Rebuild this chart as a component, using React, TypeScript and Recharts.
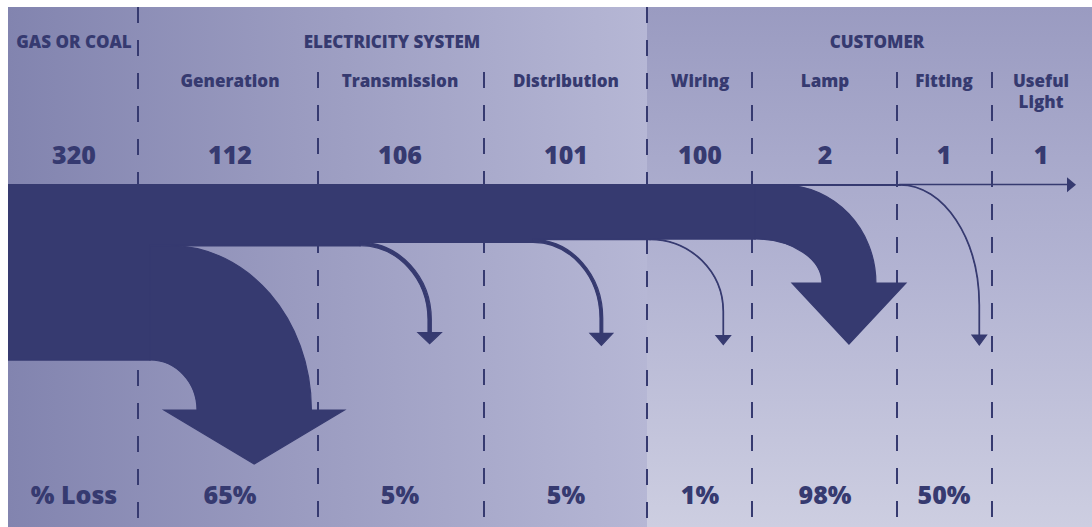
import React from "react"
import { ComposedChart, Area, XAxis, YAxis, ReferenceLine, ReferenceArea, ReferenceDot } from "recharts"

// stages along the supply chain and the energy units left at each one
const groupNames = ["GAS OR COAL", "ELECTRICITY SYSTEM", "CUSTOMER"]
const stageNames = ["", "Generation", "Transmission", "Distribution", "Wiring", "Lamp", "Fitting", "Useful\nLight"]
const stageValues = [320, 112, 106, 101, 100, 2, 1, 1]
const lossHeader = "% Loss"

// layout
const WIDTH = 1084
const HEIGHT = 520
const PX_PER_UNIT = 0.55
const BAND_TOP = 177
const SPLIT_X = 639
const NAVY = "#363a70"
const FONT = "'Open Sans', 'Noto Sans', sans-serif"

const STAGE_X = [66, 222, 392, 558, 692, 817, 936, 1033]
const GROUP_X = [66, 384, 869]
const ROW = { group: 41, name: 80, nameLine: 21, value: 157, loss: 497 }

const DIVIDERS = [
  { x: 130, from: 0 },
  { x: 310, from: 65 },
  { x: 476, from: 65 },
  { x: 639, from: 0 },
  { x: 744, from: 65 },
  { x: 889, from: 65 },
  { x: 984, from: 65 },
]

// one entry per loss step: where the stream peels off the band and how it falls
const LOSS_SHAPES = [
  { start: 142, turn: 189, bend: 50, drop: 50, lead: 20, head: 33, headLen: 54 },
  { start: 352, turn: 420, bend: 74, drop: 87, lead: 0, head: 10, headLen: 11 },
  { start: 525, turn: 592, bend: 76, drop: 91, lead: 0, head: 10, headLen: 12 },
  { start: 642, turn: 715, bend: 72, drop: 96, lead: 0, head: 7, headLen: 9 },
  { start: 747, turn: 814, bend: 44, drop: 44, lead: 28, head: 30, headLen: 61 },
  { start: 892, turn: 971, bend: 120, drop: 150, lead: 0, head: 7, headLen: 10 },
]
const FLOW_END = 1059
const FLOW_TIP = 1068

const flowPoints = [
  { x: 0, v: stageValues[0] },
  ...LOSS_SHAPES.map((s, i) => ({ x: s.start, v: stageValues[i + 1] })),
  { x: FLOW_END, v: stageValues[stageValues.length - 1] },
]

const K = 0.5523

function lossPath(x: number, y: number, w: number, t: number, s: typeof LOSS_SHAPES[number]) {
  const x0 = x
  const x1 = x + w
  const ya = y
  const yb = y + t
  const yTurn = yb + s.bend
  const yBase = yb + s.drop
  const yTip = yBase + s.headLen
  const xo = x0 + s.lead
  const xr = x1 + t
  return [
    `M${x0},${ya}`,
    `L${xo},${ya}`,
    `C${xo + K * (xr - xo)},${ya} ${xr},${yTurn - K * (yTurn - ya)} ${xr},${yTurn}`,
    `L${xr},${yBase}`,
    `L${xr + s.head},${yBase}`,
    `L${x1 + t / 2},${yTip}`,
    `L${x1 - s.head},${yBase}`,
    `L${x1},${yBase}`,
    `L${x1},${yTurn}`,
    `C${x1},${yTurn - K * (yTurn - yb)} ${x0 + K * (x1 - x0)},${yb} ${x0},${yb}`,
    "Z",
  ].join(" ")
}

const textStyle = { fill: NAVY, fontFamily: FONT, fontWeight: 800 }

function lossLabel(i: number) {
  if (i === 0) return lossHeader
  if (i >= stageValues.length - 1) return ""
  const prev = stageValues[i - 1]
  return `${Math.round(((prev - stageValues[i]) / prev) * 100)}%`
}

function StageLabels({ x, i }: { x: number; i: number }) {
  const lines = stageNames[i] ? stageNames[i].split("\n") : []
  const loss = lossLabel(i)
  return (
    <g>
      {lines.map((line, j) => (
        <text key={j} x={x} y={ROW.name + j * ROW.nameLine} textAnchor="middle" fontSize={17} {...textStyle}>
          {line}
        </text>
      ))}
      <text x={x} y={ROW.value} textAnchor="middle" fontSize={25} {...textStyle}>
        {stageValues[i]}
      </text>
      {loss && (
        <text x={x} y={ROW.loss} textAnchor="middle" fontSize={25} {...textStyle}>
          {loss}
        </text>
      )}
    </g>
  )
}

export default function App() {
  const yDomain = [-BAND_TOP / PX_PER_UNIT, (HEIGHT - BAND_TOP) / PX_PER_UNIT]
  return (
    <div style={{ position: "relative", width: WIDTH, height: HEIGHT }}>
      <style>{"body{margin:7px 0 0 8px;overflow:hidden}"}</style>
      <div
        style={{
          position: "absolute",
          left: 0,
          top: 0,
          width: SPLIT_X,
          height: HEIGHT,
          background: "linear-gradient(to right, #8284af 0%, #9a9bc0 45%, #b6b7d5 100%)",
        }}
      />
      <div
        style={{
          position: "absolute",
          left: SPLIT_X,
          top: 0,
          width: WIDTH - SPLIT_X,
          height: HEIGHT,
          background: "linear-gradient(to bottom, #9a9bc1 0%, #b2b3d2 50%, #cdcee1 100%)",
        }}
      />
      <div style={{ position: "absolute", left: 0, top: 0 }}>
        <ComposedChart width={WIDTH} height={HEIGHT} data={flowPoints} margin={{ top: 0, right: 0, bottom: 0, left: 0 }}>
          <XAxis dataKey="x" type="number" domain={[0, WIDTH]} allowDataOverflow hide />
          <YAxis type="number" domain={yDomain} allowDataOverflow reversed hide />

          {DIVIDERS.map((d) => (
            <ReferenceLine
              key={d.x}
              x={d.x}
              ifOverflow="visible"
              shape={(p: any) => {
                const top = Math.min(p.y1, p.y2)
                const bottom = Math.max(p.y1, p.y2)
                return (
                  <line
                    x1={p.x1}
                    x2={p.x1}
                    y1={top + d.from}
                    y2={bottom}
                    stroke={NAVY}
                    strokeWidth={2}
                    strokeDasharray="16 17"
                  />
                )
              }}
            />
          ))}

          <Area
            type="stepAfter"
            dataKey="v"
            baseValue={0}
            stroke={NAVY}
            strokeWidth={1.6}
            fill={NAVY}
            fillOpacity={1}
            dot={false}
            activeDot={false}
            isAnimationActive={false}
          />

          {LOSS_SHAPES.map((s, i) => (
            <ReferenceArea
              key={s.start}
              x1={s.start}
              x2={s.turn}
              y1={stageValues[i + 1]}
              y2={stageValues[i]}
              ifOverflow="visible"
              shape={(p: any) => (
                <path d={lossPath(p.x, p.y, p.width, p.height, s)} fill={NAVY} stroke={NAVY} strokeWidth={1.2} />
              )}
            />
          ))}

          <ReferenceArea
            x1={FLOW_END}
            x2={FLOW_TIP}
            y1={0}
            y2={stageValues[stageValues.length - 1]}
            ifOverflow="visible"
            shape={(p: any) => {
              const cy = p.y + p.height / 2 + 0.4
              return (
                <polygon
                  points={`${p.x},${cy - 7.5} ${p.x + p.width},${cy} ${p.x},${cy + 7.5}`}
                  fill={NAVY}
                />
              )
            }}
          />

          {GROUP_X.map((gx, i) => (
            <ReferenceDot
              key={`g${i}`}
              x={gx}
              y={0}
              ifOverflow="visible"
              shape={(p: any) => (
                <text x={p.cx} y={ROW.group} textAnchor="middle" fontSize={17} {...textStyle}>
                  {groupNames[i]}
                </text>
              )}
            />
          ))}

          {STAGE_X.map((sx, i) => (
            <ReferenceDot
              key={`s${i}`}
              x={sx}
              y={0}
              ifOverflow="visible"
              shape={(p: any) => <StageLabels x={p.cx} i={i} />}
            />
          ))}
        </ComposedChart>
      </div>
    </div>
  )
}
